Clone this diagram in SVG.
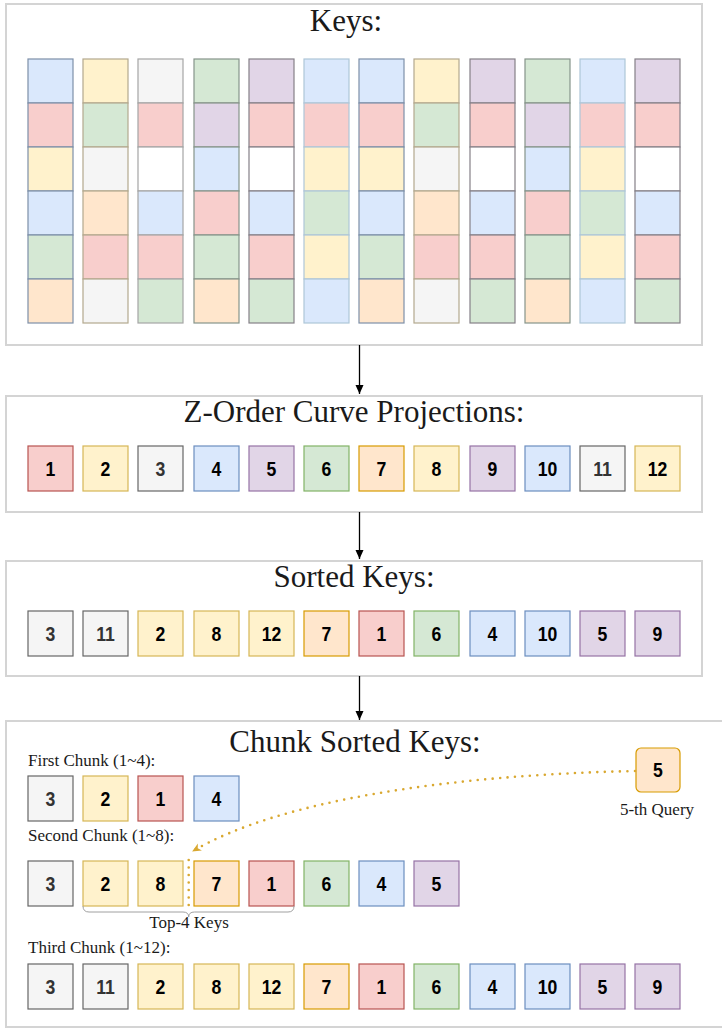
<svg xmlns="http://www.w3.org/2000/svg" width="722" height="1030" viewBox="0 0 722 1030">
<style>
.panel{fill:#fff;stroke:#d4d4d4;stroke-width:2}
.title{font-family:"Liberation Serif","Times New Roman",serif;font-size:31px;fill:#1a1a1a;text-anchor:middle}
.lbl{font-family:"Liberation Serif","Times New Roman",serif;font-size:17px;fill:#1a1a1a}
.num{font-family:"Liberation Sans",Arial,sans-serif;font-size:21px;font-weight:bold;fill:#000;text-anchor:middle;transform-box:fill-box;transform-origin:center;transform:scaleX(0.84)}
.b rect{stroke-width:1.2}
.R{fill:#f8cecc;stroke:#b85450}
.Y{fill:#fff2cc;stroke:#d6b656}
.G{fill:#f5f5f5;stroke:#666}
.B{fill:#dae8fc;stroke:#6c8ebf}
.P{fill:#e1d5e7;stroke:#9673a6}
.N{fill:#d5e8d4;stroke:#82b366}
.O{fill:#ffe6cc;stroke:#d79b00}
.gt{fill:#333}
.c rect{stroke-width:1.2}
.cb{fill:#dae8fc}.cr{fill:#f8cecc}.cy{fill:#fff2cc}.cg{fill:#d5e8d4}.co{fill:#ffe6cc}.cx{fill:#f5f5f5}.cw{fill:#ffffff}.cp{fill:#e1d5e7}
.arrow{stroke:#000;stroke-width:1.3;fill:none}
.dot{stroke:#d9a830;stroke-width:2.6;fill:none;stroke-linecap:round;stroke-dasharray:0 7.5}
</style>
<defs>
<marker id="ah" markerWidth="10" markerHeight="10" refX="9" refY="5" orient="auto" markerUnits="userSpaceOnUse">
<path d="M0,1 L9,5 L0,9 Z" fill="#000"/>
</marker>
<marker id="oh" markerWidth="10" markerHeight="10" refX="8" refY="5" orient="auto" markerUnits="userSpaceOnUse">
<path d="M0,1 L9,5 L0,9 L2.5,5 Z" fill="#d9a830"/>
</marker>
</defs>

<g id="keys-panel">
<rect class="panel" x="6" y="4" width="696" height="341"/>
<text class="title" x="346" y="31">Keys:</text>
<g id="key-grid" class="c">
<g id="col1" stroke="#7d8fa8"><rect class="cb" x="28" y="59" width="45" height="44"/><rect class="cr" x="28" y="103" width="45" height="44"/><rect class="cy" x="28" y="147" width="45" height="44"/><rect class="cb" x="28" y="191" width="45" height="44"/><rect class="cg" x="28" y="235" width="45" height="44"/><rect class="co" x="28" y="279" width="45" height="44"/></g>
<g id="col2" stroke="#b3a88e"><rect class="cy" x="83" y="59" width="45" height="44"/><rect class="cg" x="83" y="103" width="45" height="44"/><rect class="cx" x="83" y="147" width="45" height="44"/><rect class="co" x="83" y="191" width="45" height="44"/><rect class="cr" x="83" y="235" width="45" height="44"/><rect class="cx" x="83" y="279" width="45" height="44"/></g>
<g id="col3" stroke="#a5a5a5"><rect class="cx" x="138" y="59" width="45" height="44"/><rect class="cr" x="138" y="103" width="45" height="44"/><rect class="cw" x="138" y="147" width="45" height="44"/><rect class="cb" x="138" y="191" width="45" height="44"/><rect class="cr" x="138" y="235" width="45" height="44"/><rect class="cg" x="138" y="279" width="45" height="44"/></g>
<g id="col4" stroke="#86948a"><rect class="cg" x="194" y="59" width="45" height="44"/><rect class="cp" x="194" y="103" width="45" height="44"/><rect class="cb" x="194" y="147" width="45" height="44"/><rect class="cr" x="194" y="191" width="45" height="44"/><rect class="cg" x="194" y="235" width="45" height="44"/><rect class="co" x="194" y="279" width="45" height="44"/></g>
<g id="col5" stroke="#858088"><rect class="cp" x="249" y="59" width="45" height="44"/><rect class="cr" x="249" y="103" width="45" height="44"/><rect class="cw" x="249" y="147" width="45" height="44"/><rect class="cb" x="249" y="191" width="45" height="44"/><rect class="cr" x="249" y="235" width="45" height="44"/><rect class="cg" x="249" y="279" width="45" height="44"/></g>
<g id="col6" stroke="#aec6d8"><rect class="cb" x="304" y="59" width="45" height="44"/><rect class="cr" x="304" y="103" width="45" height="44"/><rect class="cy" x="304" y="147" width="45" height="44"/><rect class="cg" x="304" y="191" width="45" height="44"/><rect class="cy" x="304" y="235" width="45" height="44"/><rect class="cb" x="304" y="279" width="45" height="44"/></g>
<g id="col7" stroke="#7d8fa8"><rect class="cb" x="359" y="59" width="45" height="44"/><rect class="cr" x="359" y="103" width="45" height="44"/><rect class="cy" x="359" y="147" width="45" height="44"/><rect class="cb" x="359" y="191" width="45" height="44"/><rect class="cg" x="359" y="235" width="45" height="44"/><rect class="co" x="359" y="279" width="45" height="44"/></g>
<g id="col8" stroke="#b3a88e"><rect class="cy" x="414" y="59" width="45" height="44"/><rect class="cg" x="414" y="103" width="45" height="44"/><rect class="cx" x="414" y="147" width="45" height="44"/><rect class="co" x="414" y="191" width="45" height="44"/><rect class="cr" x="414" y="235" width="45" height="44"/><rect class="cx" x="414" y="279" width="45" height="44"/></g>
<g id="col9" stroke="#858088"><rect class="cp" x="470" y="59" width="45" height="44"/><rect class="cr" x="470" y="103" width="45" height="44"/><rect class="cw" x="470" y="147" width="45" height="44"/><rect class="cb" x="470" y="191" width="45" height="44"/><rect class="cr" x="470" y="235" width="45" height="44"/><rect class="cg" x="470" y="279" width="45" height="44"/></g>
<g id="col10" stroke="#86948a"><rect class="cg" x="525" y="59" width="45" height="44"/><rect class="cp" x="525" y="103" width="45" height="44"/><rect class="cb" x="525" y="147" width="45" height="44"/><rect class="cr" x="525" y="191" width="45" height="44"/><rect class="cg" x="525" y="235" width="45" height="44"/><rect class="co" x="525" y="279" width="45" height="44"/></g>
<g id="col11" stroke="#aec6d8"><rect class="cb" x="580" y="59" width="45" height="44"/><rect class="cr" x="580" y="103" width="45" height="44"/><rect class="cy" x="580" y="147" width="45" height="44"/><rect class="cg" x="580" y="191" width="45" height="44"/><rect class="cy" x="580" y="235" width="45" height="44"/><rect class="cb" x="580" y="279" width="45" height="44"/></g>
<g id="col12" stroke="#858088"><rect class="cp" x="635" y="59" width="45" height="44"/><rect class="cr" x="635" y="103" width="45" height="44"/><rect class="cw" x="635" y="147" width="45" height="44"/><rect class="cb" x="635" y="191" width="45" height="44"/><rect class="cr" x="635" y="235" width="45" height="44"/><rect class="cg" x="635" y="279" width="45" height="44"/></g>
</g>
</g>

<g id="zorder-panel">
<rect class="panel" x="6" y="396" width="696" height="116"/>
<text class="title" x="354" y="422">Z-Order Curve Projections:</text>
<g class="b">
<g id="z1"><rect class="R" x="28" y="446" width="45" height="45"/><text class="num" x="50.5" y="476">1</text></g>
<g id="z2"><rect class="Y" x="83" y="446" width="45" height="45"/><text class="num" x="105.5" y="476">2</text></g>
<g id="z3"><rect class="G" x="138" y="446" width="45" height="45"/><text class="num gt" x="160.5" y="476">3</text></g>
<g id="z4"><rect class="B" x="194" y="446" width="45" height="45"/><text class="num" x="216.5" y="476">4</text></g>
<g id="z5"><rect class="P" x="249" y="446" width="45" height="45"/><text class="num" x="271.5" y="476">5</text></g>
<g id="z6"><rect class="N" x="304" y="446" width="45" height="45"/><text class="num" x="326.5" y="476">6</text></g>
<g id="z7"><rect class="O" x="359" y="446" width="45" height="45"/><text class="num" x="381.5" y="476">7</text></g>
<g id="z8"><rect class="Y" x="414" y="446" width="45" height="45"/><text class="num" x="436.5" y="476">8</text></g>
<g id="z9"><rect class="P" x="470" y="446" width="45" height="45"/><text class="num" x="492.5" y="476">9</text></g>
<g id="z10"><rect class="B" x="525" y="446" width="45" height="45"/><text class="num" x="547.5" y="476">10</text></g>
<g id="z11"><rect class="G" x="580" y="446" width="45" height="45"/><text class="num gt" x="602.5" y="476">11</text></g>
<g id="z12"><rect class="Y" x="635" y="446" width="45" height="45"/><text class="num" x="657.5" y="476">12</text></g>
</g>
</g>

<g id="sorted-panel">
<rect class="panel" x="6" y="561" width="696" height="115"/>
<text class="title" x="354" y="587">Sorted Keys:</text>
<g class="b">
<g id="s1"><rect class="G" x="28" y="611" width="45" height="45"/><text class="num gt" x="50.5" y="641">3</text></g>
<g id="s2"><rect class="G" x="83" y="611" width="45" height="45"/><text class="num gt" x="105.5" y="641">11</text></g>
<g id="s3"><rect class="Y" x="138" y="611" width="45" height="45"/><text class="num" x="160.5" y="641">2</text></g>
<g id="s4"><rect class="Y" x="194" y="611" width="45" height="45"/><text class="num" x="216.5" y="641">8</text></g>
<g id="s5"><rect class="Y" x="249" y="611" width="45" height="45"/><text class="num" x="271.5" y="641">12</text></g>
<g id="s6"><rect class="O" x="304" y="611" width="45" height="45"/><text class="num" x="326.5" y="641">7</text></g>
<g id="s7"><rect class="R" x="359" y="611" width="45" height="45"/><text class="num" x="381.5" y="641">1</text></g>
<g id="s8"><rect class="N" x="414" y="611" width="45" height="45"/><text class="num" x="436.5" y="641">6</text></g>
<g id="s9"><rect class="B" x="470" y="611" width="45" height="45"/><text class="num" x="492.5" y="641">4</text></g>
<g id="s10"><rect class="B" x="525" y="611" width="45" height="45"/><text class="num" x="547.5" y="641">10</text></g>
<g id="s11"><rect class="P" x="580" y="611" width="45" height="45"/><text class="num" x="602.5" y="641">5</text></g>
<g id="s12"><rect class="P" x="635" y="611" width="45" height="45"/><text class="num" x="657.5" y="641">9</text></g>
</g>
</g>

<g id="chunk-panel">
<rect class="panel" x="6" y="721" width="730" height="306"/>
<text class="title" x="355" y="752">Chunk Sorted Keys:</text>
<text class="lbl" x="28" y="766">First Chunk (1~4):</text>
<g id="first-chunk" class="b">
<g id="f1"><rect class="G" x="28" y="776" width="45" height="45"/><text class="num gt" x="50.5" y="806">3</text></g>
<g id="f2"><rect class="Y" x="83" y="776" width="45" height="45"/><text class="num" x="105.5" y="806">2</text></g>
<g id="f3"><rect class="R" x="138" y="776" width="45" height="45"/><text class="num" x="160.5" y="806">1</text></g>
<g id="f4"><rect class="B" x="194" y="776" width="45" height="45"/><text class="num" x="216.5" y="806">4</text></g>
</g>
<text class="lbl" x="28" y="841">Second Chunk (1~8):</text>
<g id="second-chunk" class="b">
<g id="c2-1"><rect class="G" x="28" y="861" width="45" height="45"/><text class="num gt" x="50.5" y="891">3</text></g>
<g id="c2-2"><rect class="Y" x="83" y="861" width="45" height="45"/><text class="num" x="105.5" y="891">2</text></g>
<g id="c2-3"><rect class="Y" x="138" y="861" width="45" height="45"/><text class="num" x="160.5" y="891">8</text></g>
<g id="c2-4"><rect class="O" x="194" y="861" width="45" height="45"/><text class="num" x="216.5" y="891">7</text></g>
<g id="c2-5"><rect class="R" x="249" y="861" width="45" height="45"/><text class="num" x="271.5" y="891">1</text></g>
<g id="c2-6"><rect class="N" x="304" y="861" width="45" height="45"/><text class="num" x="326.5" y="891">6</text></g>
<g id="c2-7"><rect class="B" x="359" y="861" width="45" height="45"/><text class="num" x="381.5" y="891">4</text></g>
<g id="c2-8"><rect class="P" x="414" y="861" width="45" height="45"/><text class="num" x="436.5" y="891">5</text></g>
</g>
<g id="top4-brace">
<path d="M83,906 Q83,912 89,912 L183,912 Q188.7,912 188.7,917 Q188.7,912 194.5,912 L288,912 Q294,912 294,906" fill="none" stroke="#a0a0a0" stroke-width="1"/>
<text class="lbl" x="189" y="928" text-anchor="middle" font-size="15">Top-4 Keys</text>
</g>
<text class="lbl" x="28" y="953">Third Chunk (1~12):</text>
<g id="third-chunk" class="b">
<g id="t1"><rect class="G" x="28" y="964" width="45" height="45"/><text class="num gt" x="50.5" y="994">3</text></g>
<g id="t2"><rect class="G" x="83" y="964" width="45" height="45"/><text class="num gt" x="105.5" y="994">11</text></g>
<g id="t3"><rect class="Y" x="138" y="964" width="45" height="45"/><text class="num" x="160.5" y="994">2</text></g>
<g id="t4"><rect class="Y" x="194" y="964" width="45" height="45"/><text class="num" x="216.5" y="994">8</text></g>
<g id="t5"><rect class="Y" x="249" y="964" width="45" height="45"/><text class="num" x="271.5" y="994">12</text></g>
<g id="t6"><rect class="O" x="304" y="964" width="45" height="45"/><text class="num" x="326.5" y="994">7</text></g>
<g id="t7"><rect class="R" x="359" y="964" width="45" height="45"/><text class="num" x="381.5" y="994">1</text></g>
<g id="t8"><rect class="N" x="414" y="964" width="45" height="45"/><text class="num" x="436.5" y="994">6</text></g>
<g id="t9"><rect class="B" x="470" y="964" width="45" height="45"/><text class="num" x="492.5" y="994">4</text></g>
<g id="t10"><rect class="B" x="525" y="964" width="45" height="45"/><text class="num" x="547.5" y="994">10</text></g>
<g id="t11"><rect class="P" x="580" y="964" width="45" height="45"/><text class="num" x="602.5" y="994">5</text></g>
<g id="t12"><rect class="P" x="635" y="964" width="45" height="45"/><text class="num" x="657.5" y="994">9</text></g>
</g>
<g id="query">
<rect class="O" x="636" y="748" width="44" height="44" rx="5" stroke-width="1.2"/>
<text class="num" x="658" y="777.5">5</text>
<text class="lbl" x="657" y="815" text-anchor="middle">5-th Query</text>
</g>
</g>

<g id="connectors">
<line class="arrow" x1="359.5" y1="345" x2="359.5" y2="394" marker-end="url(#ah)"/>
<line class="arrow" x1="359.5" y1="512" x2="359.5" y2="559" marker-end="url(#ah)"/>
<line class="arrow" x1="359.5" y1="676" x2="359.5" y2="720" marker-end="url(#ah)"/>
<path class="dot" d="M635,771 C450,775 280,800 193,851" marker-end="url(#oh)"/>
<line class="dot" x1="188.7" y1="860" x2="188.7" y2="912"/>
</g>
</svg>
